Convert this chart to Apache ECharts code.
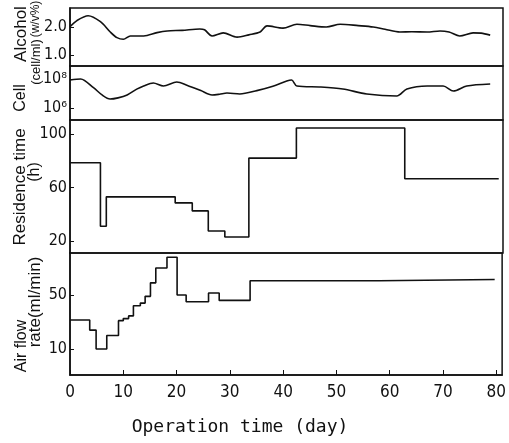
<!DOCTYPE html>
<html>
<head>
<meta charset="utf-8">
<script src="https://cdn.jsdelivr.net/npm/echarts@6/dist/echarts.min.js"></script>
<style>html,body{margin:0;padding:0;background:#fff}#c{width:509px;height:443px}</style>
</head>
<body>
<div id="c"></div>
<script>
// Alcohol concentration (w/v%) vs operation time (day)
const alcohol = [[0,2.01],[1.3,2.23],[3.4,2.40],[5.7,2.19],[7.5,1.83],[8.8,1.62],[10,1.56],[11.3,1.68],[13.8,1.68],[16.3,1.80],[18.2,1.86],[21,1.88],[24.3,1.93],[25.2,1.90],[26.6,1.68],[28.7,1.79],[31.3,1.64],[33.5,1.72],[35.6,1.82],[36.9,2.04],[39.9,1.96],[42.5,2.10],[45,2.05],[48,2.00],[50.6,2.10],[54,2.05],[56.8,2.00],[59,1.92],[61.8,1.82],[64,1.83],[66.9,1.82],[69.3,1.86],[71,1.82],[73,1.68],[75.5,1.79],[77,1.78],[78.7,1.71]];
// Cell concentration, log10(cell/ml)
const cellLog = [[0,7.93],[2,8.0],[4.4,7.4],[6,6.9],[7.5,6.62],[9,6.7],[10.7,6.9],[12.5,7.3],[13.8,7.52],[15.6,7.72],[17.5,7.52],[20,7.79],[22,7.55],[24.5,7.2],[26.6,6.9],[28,6.95],[29.4,7.03],[31.8,6.97],[35,7.2],[38,7.5],[40.6,7.86],[41.5,7.93],[42.5,7.52],[47,7.45],[51.1,7.31],[55.6,6.97],[61.2,6.83],[63.1,7.31],[66.9,7.52],[69.9,7.52],[71.8,7.17],[74.3,7.52],[78.7,7.66]];
// Residence time (h): [day of change, new value]
const residence = [[0,78.5],[5.7,31],[6.8,53],[19.7,48.5],[22.9,42.5],[25.9,27.5],[29,23],[33.5,82],[42.4,104.5],[62.7,66.5],[80.3,66.5]];
// Air flow rate (ml/min): [day of change, new value]
const airflow = [[0,31.5],[3.7,24],[4.9,10],[6.9,20],[9.1,31],[10,32.5],[11,34.5],[11.9,42],[13.2,44],[14.1,49],[15.1,59],[16.1,70],[18.2,78],[20.1,50],[21.8,45],[26,51.5],[28,46],[33.8,60.5],[58,61.5],[79.7,62]];

const xTicks = [0,10,20,30,40,50,60,70,80];
const alcoholTicks = [1.0, 2.0];
const cellTicks = [6, 8];
const residenceTicks = [20, 60, 100];
const airTicks = [10, 50];

const supDigits = {'6':'\u2076','8':'\u2078'};
const tickFont = "'DejaVu Sans Condensed', 'Liberation Sans Narrow', 'DejaVu Sans', sans-serif";
const nameFont = "'Liberation Sans', Arial, sans-serif";
const ink = '#111';

const L = 70, W = 433;
const grids = [
  {top: 8, height: 58},
  {top: 66, height: 54},
  {top: 120, height: 133},
  {top: 253, height: 122}
].map(g => Object.assign({left: L, width: W, show: true, borderColor: ink, borderWidth: 1.5, backgroundColor: 'transparent'}, g));

const xAxes = grids.map((g, i) => ({
  type: 'value', gridIndex: i, min: 0, max: 81.1, interval: 10,
  show: i === 3,
  axisLine: {show: true, onZero: false, lineStyle: {color: ink, width: 1.5}},
  axisTick: {show: true, inside: true, length: 5, customValues: xTicks, lineStyle: {color: ink}},
  axisLabel: {show: true, customValues: xTicks, margin: 9, color: ink, fontSize: 17, fontFamily: tickFont},
  splitLine: {show: false}
}));

function yAx(i, min, max, ticks, fmt) {
  return {
    type: 'value', gridIndex: i, min: min, max: max,
    axisLine: {show: true, onZero: false, lineStyle: {color: ink, width: 1.5}},
    axisTick: {show: true, inside: true, length: 4, customValues: ticks, lineStyle: {color: ink}},
    axisLabel: {show: true, customValues: ticks, formatter: fmt, margin: 3, color: ink, fontSize: 16, fontFamily: tickFont},
    splitLine: {show: false}
  };
}

const yAxes = [
  yAx(0, 0.607, 2.679, alcoholTicks, v => Number(v).toFixed(1)),
  yAx(1, 5.172, 8.897, cellTicks, v => '10' + supDigits[String(Math.round(v))]),
  yAx(2, 11.03, 110.47, residenceTicks, v => String(v)),
  yAx(3, -9.26, 81.1, airTicks, v => String(v))
];

function lineSeries(i, data, step, smooth) {
  return {
    type: 'line', xAxisIndex: i, yAxisIndex: i, data: data,
    showSymbol: false, step: step || false, smooth: smooth || false,
    lineStyle: {color: ink, width: 1.6}, animation: false
  };
}

function vText(t, x, y, size) {
  return {type: 'text', x: x, y: y, rotation: Math.PI / 2,
    style: {text: t, fill: ink, font: size + "px " + nameFont, align: 'center', verticalAlign: 'middle'}};
}

const chart = echarts.init(document.getElementById('c'), null, {renderer: 'canvas'});
chart.setOption({
  backgroundColor: '#fff',
  animation: false,
  grid: grids,
  xAxis: xAxes,
  yAxis: yAxes,
  series: [
    lineSeries(0, alcohol, false, 0.3),
    lineSeries(1, cellLog, false, 0.3),
    lineSeries(2, residence, 'end'),
    lineSeries(3, airflow, 'end')
  ],
  graphic: [
    vText('Alcohol', 21, 34, 17),
    vText('(w/v%)', 36, 19, 12),
    vText('Cell', 21, 98, 16),
    vText('(cell/ml)', 36, 62, 13),
    vText('Residence time', 20, 187, 17),
    vText('(h)', 35, 172, 16),
    vText('Air flow', 22, 346, 16),
    vText('rate(ml/min)', 35, 302, 17),
    {type: 'text', x: 240, y: 427,
      style: {text: 'Operation time (day)', fill: ink, font: "18px 'DejaVu Sans Mono', monospace", align: 'center', verticalAlign: 'middle'}}
  ]
});
</script>
</body>
</html>
